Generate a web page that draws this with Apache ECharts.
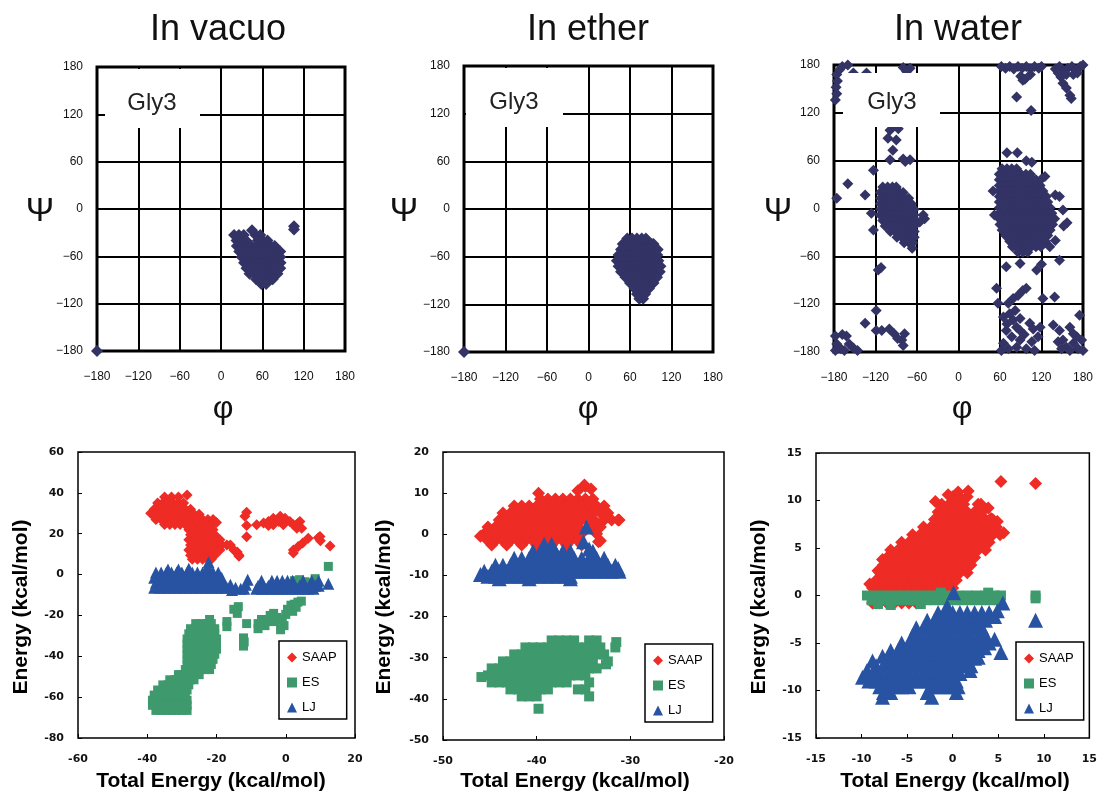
<!DOCTYPE html>
<html><head><meta charset="utf-8">
<script src="https://cdn.jsdelivr.net/npm/echarts/dist/echarts.min.js"></script>
<style>html,body{margin:0;padding:0;background:#fff}#c{width:1100px;height:793px}</style>
</head><body><div id="c"></div>
<script>
// ---------------- DATA ----------------
const panelTitles = ['In vacuo', 'In ether', 'In water'];
const energyNames = ['SAAP', 'ES', 'LJ'];
const angleAxis = [-180, 180, 60];           // min, max, interval
const vacuoEX = [-60, 20, 20], vacuoEY = [-80, 60, 20];
const etherEX = [-50, -20, 10], etherEY = [-50, 20, 10];
const waterEX = [-15, 15, 5],  waterEY = [-15, 15, 5];

// Ramachandran (phi, psi) — rows: [psi, phi1, phi2, ...]
const vacuoRamaRows = [
 [-33, 19,26,33,50,57],
 [-40, 22.5,29.5,36.5,53.5,60.5,67.5],
 [-47, 23,30,37,44,51,58,65,72,78],
 [-54, 26.5,33.5,40.5,47.5,54.5,61.5,68.5,75.5,82.5,86],
 [-61, 30,37,44,51,58,65,72,79,86],
 [-68, 33.5,40.5,47.5,54.5,61.5,68.5,75.5,82.5,86.5],
 [-75, 37,44,51,58,65,72,79,86],
 [-82, 41.5,48.5,55.5,62.5,69.5,76.5,82],
 [-89, 51,58,65,72,75],
 [-95, 58.5,65.5]
];
const vacuoRamaExtra = [[45,-27],[106,-22],[106,-26],[-180,-180]];

const etherRamaRows = [
 [-37, 56,63,70,77,83],
 [-44, 49.5,56.5,63.5,70.5,77.5,84.5,91.5,94],
 [-51, 47,54,61,68,75,82,89,96,100],
 [-58, 43.5,50.5,57.5,64.5,71.5,78.5,85.5,92.5,99.5],
 [-65, 41,48,55,62,69,76,83,90,97,101],
 [-72, 43.5,50.5,57.5,64.5,71.5,78.5,85.5,92.5,99.5,104],
 [-79, 47,54,61,68,75,82,89,96,103],
 [-86, 53.5,60.5,67.5,74.5,81.5,88.5,95.5,99],
 [-93, 60,67,74,81,88,94],
 [-100, 66.5,73.5,80.5,87.5],
 [-107, 70,77,82],
 [-113, 73.5,79]
];
const etherRamaExtra = [[-180,-180]];

const waterRamaLeftRows = [
 [27, -109.5,-102.5,-95.5,-90],
 [20, -113,-106,-99,-92,-85,-80],
 [13, -112.5,-105.5,-98.5,-91.5,-84.5,-77.5,-72],
 [6, -113,-106,-99,-92,-85,-78,-71,-68],
 [-1, -112.5,-105.5,-98.5,-91.5,-84.5,-77.5,-70.5,-64],
 [-8, -113,-106,-99,-92,-85,-78,-71,-64],
 [-15, -109.5,-102.5,-95.5,-88.5,-81.5,-74.5,-67.5,-62],
 [-22, -106,-99,-92,-85,-78,-71,-64],
 [-29, -98.5,-91.5,-84.5,-77.5,-70.5,-64],
 [-36, -89,-82,-75,-68,-64],
 [-43, -78.5,-71.5,-66],
 [-50, -67]
];
const waterRamaRightRows = [
 [50, 63,70,77,84],
 [43, 59,62.5,69.5,76.5,83.5,90.5,97.5,104],
 [36, 59,66,73,80,87,94,101,108,112],
 [29, 59,62.5,69.5,76.5,83.5,90.5,97.5,104.5,111.5,118],
 [22, 59,66,73,80,87,94,101,108,115,122],
 [15, 59,62.5,69.5,76.5,83.5,90.5,97.5,104.5,111.5,118.5,125.5,127],
 [8, 59,66,73,80,87,94,101,108,115,122,129],
 [1, 59,62.5,69.5,76.5,83.5,90.5,97.5,104.5,111.5,118.5,125.5,132.5],
 [-6, 59,66,73,80,87,94,101,108,115,122,129,135],
 [-13, 59,62.5,69.5,76.5,83.5,90.5,97.5,104.5,111.5,118.5,125.5,132.5,139],
 [-20, 60,66,73,80,87,94,101,108,115,122,129,136],
 [-27, 63,69.5,76.5,83.5,90.5,97.5,104.5,111.5,118.5,125.5,132.5],
 [-34, 68,73,80,87,94,101,108,115,122,129],
 [-41, 74,76.5,83.5,90.5,97.5,104.5,111.5,118.5,125.5],
 [-48, 78,84,91,98,105,112,119],
 [-55, 86,93,100]
];
const waterRamaScatter = [
 [-49,-13],[-56,-17],[-51,-8],[-123,48],[-160,31],[-135,17],[-176,13],[-126,-6],[-123,-27],[-116,-77],[-112,-74],
 [-70,61],[-77,59],[-80,62],[-99,61],[-95,73],[-102,88],[-90,86],[-99,98],[-87,100],[-94,104],
 [70,70],[85,70],[98,60],[106,58],[120,37],[125,40],[140,17],[146,15],[151,-2],[157,-18],[152,-22],
 [146,-65],[69,-73],[89,-69],[113,-77],[120,-70],[52,-8],[50,22],[132,-48],[140,-40],
 [62,178],[68,176],[74,178],[80,175],[86,178],[92,176],[98,178],[104,175],[110,178],[116,176],[120,178],
 [90,166],[96,162],[104,168],[84,140],[105,123],[93,161],[140,175],[146,178],[152,172],[158,176],[164,178],
 [170,174],[176,178],[148,165],[156,168],[166,168],[151,157],[156,151],[161,142],[163,138],[172,170],[180,180],[144,170],
 [55,-100],[57,-119],[72,-119],[79,-113],[86,-109],[93,-103],[98,-100],[122,-113],[139,-111],
 [65,-136],[74,-132],[79,-140],[84,-149],[69,-153],[77,-161],[89,-165],[98,-176],[72,-176],[65,-169],[89,-153],
 [103,-144],[108,-151],[118,-149],[115,-161],[106,-167],[84,-174],[89,-138],[82,-128],[70,-145],[95,-158],[110,-178],[62,-178],
 [137,-146],[146,-153],[161,-149],[175,-134],
 [144,-167],[151,-165],[156,-174],[166,-169],[173,-176],[178,-165],[171,-161],[149,-176],[161,-178],[180,-178],[166,-157],
 [-178,136],[-176,144],[-177,152],[-175,160],[-176,168],[-172,174],[-168,178],[-160,180],[-80,177],[-70,176],[-75,172],[-152,170],[-133,170],
 [-178,-178],[-176,-170],[-170,-176],[-178,-160],[-168,-158],[-162,-160],[-158,-170],[-152,-175],[-165,-178],[-146,-178],
 [-135,-144],[-119,-128],[-119,-153],[-111,-153],[-100,-151],[-93,-157],[-82,-165],[-80,-172],[-78,-157],[-88,-163]
];

// Energy components vs total energy — rows: [energy, total1, total2, ...]
const vacuoSaapRows = [
 [38, -35,-33,-31],
 [35, -37,-35.5,-34,-32.5,-31,-29.5],
 [32, -38,-36.5,-35,-33.5,-32,-30.5,-29,-27.5],
 [29.5, -38.5,-37,-35.5,-34,-32.5,-31,-29.5,-28,-26.5,-25],
 [27, -37.5,-36,-34.5,-33,-31.5,-30,-28.5,-27,-25.5,-24,-22.5,-21],
 [24.5, -35,-33.5,-32,-30.5,-29,-27.5,-26,-24.5,-23,-21.5],
 [22, -28,-26.5,-25,-23.5,-22,-21],
 [19.5, -27.5,-26,-24.5,-23,-21.5,-20.5],
 [17, -28,-26.5,-25,-23.5,-22,-20.5,-19],
 [14.5, -27.5,-26,-24.5,-23,-21.5,-20,-18.5,-17,-16],
 [12, -28,-26.5,-25,-23.5,-22,-20.5,-19,-15],
 [9.5, -27.5,-26,-24.5,-23,-21.5,-20.5,-13.5],
 [7.5, -27,-25.5,-24,-22.5,-21.5]
];
const vacuoSaapExtra = [[-28.5,39],[-39,30],[-20,25.5],[-14,11],[-13.5,9],[-11.3,30.5],[-11.8,28.5],[-11.3,24],[-11.3,18.5],
 [-8.4,24.4],[-6.4,25.2],[-5,26],[-3.6,27.6],[-1.6,28.5],[-0.2,27.6],[1.2,26],[2.2,24.4],[-0.7,24.4],[-3.6,24.4],
 [3.6,25.2],[4.1,26],[4.6,22.7],[3.2,22.7],[-2,26],[-5,24],
 [2.2,12],[2.2,10.5],[3.6,13.7],[4.9,15.4],[6.5,17.8],[9.4,18],[10,16.5],[12.8,14],[9.9,18.6]];
const vacuoEsRows = [
 [-24, -26,-24.5,-23,-21.5],
 [-26.5, -27.5,-26,-24.5,-23,-21.5,-20.5],
 [-29, -28,-26.5,-25,-23.5,-22,-20.5],
 [-31.5, -28.5,-27,-25.5,-24,-22.5,-21,-20],
 [-34, -28.5,-27,-25.5,-24,-22.5,-21,-20],
 [-36.5, -28.5,-27,-25.5,-24,-22.5,-21,-20],
 [-39, -28.5,-27,-25.5,-24,-22.5,-21,-20.5],
 [-41.5, -28.5,-27,-25.5,-24,-22.5,-21],
 [-44, -28.5,-27,-25.5,-24,-22.5,-21.5],
 [-46.5, -29,-27.5,-26,-24.5,-23,-22],
 [-49, -31,-29.5,-28,-26.5,-25],
 [-51.5, -33.5,-32,-30.5,-29,-27.5,-26.5],
 [-54, -35.5,-34,-32.5,-31,-29.5,-28],
 [-56.5, -37,-35.5,-34,-32.5,-31,-29.5,-28.5],
 [-59, -38,-36.5,-35,-33.5,-32,-30.5,-29],
 [-61.5, -38.5,-37,-35.5,-34,-32.5,-31,-29.5,-28.5],
 [-64, -38.5,-37,-35.5,-34,-32.5,-31,-29.5,-28.5],
 [-66.5, -37.5,-36,-34.5,-33,-31.5,-30,-28.5]
];
const vacuoEsExtra = [[-17,-23],[-17,-25.5],[-15,-17],[-13.7,-15.7],[-14,-19],[-11.3,-24],[-12.2,-31],[-12.2,-35],[-12,-33],
 [-8,-24],[-7,-22],[-6,-25],[-4.5,-20],[-3.5,-19],[-2.5,-21],[-1,-22],[-0.5,-25],[-1.5,-27],[-5,-23],[-3,-23],[-8,-26.5],
 [0.5,-17],[1.5,-15],[2.5,-14.5],[3.5,-13.5],[4.5,-13],[2,-18],[0,-19.5],[3,-16],
 [12.3,4],[8.5,-2],[2.5,-3],[4,-2.5],[5.5,-3.5],[7,-4],[3.5,-5.5],[-30.5,-49],[-22,-22]];
const vacuoLjRows = [
 [1, -37.5,-36,-34.5,-33,-31.5,-30,-28.5,-27,-25.5,-24,-22.5,-21,-19.5],
 [-1.5, -38,-36.5,-35,-33.5,-32,-30.5,-29,-27.5,-26,-24.5,-23,-21.5,-20,-18.5],
 [-4, -37.5,-36,-34.5,-33,-31.5,-30,-28.5,-27,-25.5,-24,-22.5,-21,-19.5,-18],
 [-6.5, -38,-36.5,-35,-33.5,-32,-30.5,-29,-27.5,-26,-24.5,-23,-21.5,-20,-18.5],
 [-3, -7,-4,-2.5,-1,0.5,2,5,7.5,9.5],
 [-5.5, -8,-6.5,-5,-3.5,-2,-0.5,1,2.5,4,5.5,7,8.5,9.5],
 [-7, -8.5,-7,-5.5,-4,-2.5,-1,0.5,2,3.5,5,6.5,8]
];
const vacuoLjExtra = [[-34,2.5],[-28,2.8],[-22.5,4],[-22.3,6],[-31,2.5],[-16,-5],[-14.5,-6.5],[-13,-7],[-11.5,-5],
 [-11,-2.5],[-12,-7],[-15.5,-7.5],[12.3,-4.5],[-17,-6.5]];

const etherSaapRows = [
 [8.6, -39.6,-38.8,-38,-37.2,-36.4,-35.6,-34.8,-34],
 [6.9, -42.4,-41.6,-40.8,-40,-39.2,-38.4,-37.6,-36.8,-36,-35.2,-34.4,-33.6,-32.8],
 [5.2, -43.6,-42.8,-42,-41.2,-40.4,-39.6,-38.8,-38,-37.2,-36.4,-35.6,-34.8,-34,-33.2,-32.4],
 [3.5, -44,-43.2,-42.4,-41.6,-40.8,-40,-39.2,-38.4,-37.6,-36.8,-36,-35.2,-34.4,-32.8,-32,-31.2],
 [1.8, -45.2,-44.4,-43.6,-42.8,-42,-41.2,-40.4,-39.6,-38.8,-38,-37.2,-36.4,-35.6,-34,-33.2],
 [0.1, -45.6,-44.8,-44,-43.2,-42.4,-41.6,-40.8,-40,-39.2,-38.4,-37.6,-36.8,-36,-35.2,-33.6],
 [-1.6, -45.2,-44.4,-43.6,-42.8,-42,-41.2,-40.4,-39.6,-38.8,-38,-37.2,-36.4,-35.6,-33.2],
 [-2.6, -44.8,-43.2,-41.6,-40,-38.4,-36.8,-35.2]
];
const etherSaapExtra = [[-39.8,10],[-35.6,10.6],[-34.8,11.6],[-34.2,11],[-34.9,12],[-46,-0.5],[-31.3,3.5],[-33.4,-1.8],[-33.8,3.3]];
const etherEsRows = [
 [-25.8, -38.4,-37.6,-36.8,-36,-34.4,-33.6],
 [-27.5, -41.2,-40.4,-39.6,-38.8,-38,-37.2,-36.4,-35.6,-34.8,-34,-33.2,-31.6],
 [-29.2, -42.4,-41.6,-40.8,-40,-39.2,-38.4,-37.6,-36.8,-36,-35.2,-34.4,-33.6,-32.8],
 [-30.9, -43.6,-42.8,-42,-41.2,-40.4,-39.6,-38.8,-38,-37.2,-36.4,-35.6,-34.8,-34,-32.4],
 [-32.6, -44.8,-44,-43.2,-42.4,-41.6,-40.8,-40,-39.2,-38.4,-37.6,-36.8,-36,-35.2,-34.4,-33.6],
 [-34.3, -45.2,-44.4,-43.6,-42.8,-42,-41.2,-40.4,-39.6,-38.8,-38,-37.2,-36.4,-35.6,-34.8],
 [-36, -44.8,-44,-43.2,-42.4,-41.6,-40.8,-40,-39.2,-38.4,-37.6,-36.8,-34.4],
 [-37.7, -42.8,-42,-41.2,-40.4,-39.6,-38.8,-35.6,-34.8],
 [-39.4, -41.6,-40.8,-40,-34.4]
];
const etherEsExtra = [[-39.8,-42.4],[-45.9,-34.7],[-31.5,-26.2],[-32.6,-31.6]];
const etherLjRows = [
 [-2.4, -39.2,-38.4],
 [-4.1, -40.4,-39.6,-38.8,-38,-37.2,-36.4,-34],
 [-5.8, -42.4,-41.6,-40.8,-40,-39.2,-38.4,-37.6,-36.8,-36,-35.2,-34.4,-33.6,-32.8],
 [-7.5, -44.4,-43.6,-42.8,-42,-41.2,-40.4,-39.6,-38.8,-38,-37.2,-36.4,-35.6,-34.8,-34,-33.2,-32.4,-31.6],
 [-9.0, -45.6,-44.8,-44,-43.2,-42.4,-41.6,-40.8,-40,-39.2,-38.4,-37.6,-36.8,-36,-35.2,-34.4,-33.6,-32.8,-32,-31.2],
 [-10.2, -45.2,-44.4,-43.6,-42.8,-42,-41.2,-40.4,-39.6,-38.8,-38,-37.2,-36.4]
];
const etherLjExtra = [[-34.7,1.8],[-35,-1.8],[-34.4,-3.6],[-31.3,-8.3],[-46,-9.8],[-36.4,-10.8],[-40.8,-10.8],[-44,-10.8]];

const waterSaapRows = [
 [-0.8, -8.8,-8,-7.2,-6.4,-5.6,-4.8,-4],
 [0, -8.4,-7.6,-6.8,-6,-5.2,-4.4,-3.6,-2.8,-2,-1.2],
 [0.8, -8.8,-8,-7.2,-6.4,-5.6,-4.8,-4,-3.2,-2.4,-1.6,-0.8,0],
 [1.6, -8.4,-7.6,-6.8,-6,-5.2,-4.4,-3.6,-2.8,-2,-1.2,-0.4,0.4],
 [2.4, -8,-7.2,-6.4,-5.6,-4.8,-4,-3.2,-2.4,-1.6,-0.8,0,0.8,1.6],
 [3.2, -7.6,-6.8,-6,-5.2,-4.4,-3.6,-2.8,-2,-1.2,-0.4,0.4,1.2,2],
 [4, -7.2,-6.4,-5.6,-4.8,-4,-3.2,-2.4,-1.6,-0.8,0,0.8,1.6,2.4],
 [4.8, -6.8,-6,-5.2,-4.4,-3.6,-2.8,-2,-1.2,-0.4,0.4,1.2,2,2.8,3.6],
 [5.6, -5.6,-4.8,-4,-3.2,-2.4,-1.6,-0.8,0,0.8,1.6,2.4,3.2,4],
 [6.4, -4.4,-3.6,-2.8,-2,-1.2,-0.4,0.4,1.2,2,2.8,3.6,4.4,5.2],
 [7.2, -3.2,-2.4,-1.6,-0.8,0,0.8,1.6,2.4,3.2,4,4.8],
 [8, -2,-1.2,-0.4,0.4,1.2,2,2.8,3.6,4.4],
 [8.8, -1.6,-0.8,0,0.8,1.6,2.4,3.2],
 [9.6, -1.2,-0.4,0.4,1.2,2.8],
 [10.4, 0,0.8,1.6]
];
const waterSaapExtra = [[5.3,12],[9.1,11.8],[-0.5,10.6],[5.6,6.6],[4.9,7.8],[3.9,9.2],[3.1,9.6],[1.7,11],[0.6,10.9],
 [-1.9,9.9],[-7.7,3.8],[-9.1,1.2],[-8.2,2.6],[4.2,8.1],[-1.2,9.4]];
const waterEsRows = [
 [0, -9.4,-8.4,-7.4,-6.4,-5.4,-4.4,-3.4,-2.4,-1.4,-0.4,0.6,1.6,2.6,3.6,4.6,5.3],
 [-0.5, -8.9,-7.9,-6.9,-5.9,-4.9,-3.9,-2.9,-1.9,-0.9,0.1,1.1,2.1,3.1,4.1,5.1]
];
const waterEsExtra = [[-6.8,-1.0],[-3.5,-0.9],[-8.2,-0.9],[-1.3,0.3],[9.1,0],[9.1,-0.3],[3.9,0.3]];
const waterLjRows = [
 [-1.8, -1.6,-0.8,0,0.8,1.6,2.4,3.2,4],
 [-2.6, -2.8,-2,-1.2,-0.4,0.4,1.2,2,2.8,3.6],
 [-3.4, -4,-3.2,-2.4,-1.6,-0.8,0,0.8,1.6,2.4,3.2],
 [-4.2, -4.4,-3.6,-2.8,-2,-1.2,-0.4,0.4,1.2,2,2.8,3.6],
 [-5, -5.6,-4.8,-4,-3.2,-2.4,-1.6,-0.8,0,0.8,1.6,2.4,3.2,4],
 [-5.8, -6.8,-6,-5.2,-4.4,-3.6,-2.8,-2,-1.2,-0.4,0.4,1.2,2,2.8],
 [-6.6, -7.2,-6.4,-5.6,-4.8,-4,-3.2,-2.4,-1.6,-0.8,0,0.8,1.6,2.4],
 [-7.4, -8.4,-7.6,-6.8,-6,-5.2,-4.4,-3.6,-2.8,-2,-1.2,-0.4,0.4,1.2,2],
 [-8.2, -8.8,-8,-7.2,-6.4,-5.6,-4.8,-4,-3.2,-2.4,-1.6,-0.8,0,0.8],
 [-9.0, -9.2,-8.4,-7.6,-6.8,-6,-5.2,-4.4,-3.6,-2.8,-2,-1.2,-0.4,0.4],
 [-9.6, -8,-7.2,-6.4,-5.6,-4.8,-2.4,-1.6,-0.8,0],
 [-10.2, -7.6,-6.8,-2.8,0.4]
];
const waterLjExtra = [[0.1,0.3],[-0.6,-1.1],[5.5,-0.8],[4.9,-1.6],[4.6,-2.2],[9.1,-2.6],[5.3,-6],[4.6,-4.6],[-9.9,-8.6],
 [-9.4,-7.9],[-8.8,-6.9],[-7.7,-6.4],[-7.7,-10.7],[-2.3,-10.7],[0.6,-9.6],[1.9,-7.9],[2.8,-6.5],[3.5,-5.5]];

// ---------------- BUILD ----------------
function expand(rows, extra) {
  const out = [];
  rows.forEach(r => { for (let i = 1; i < r.length; i++) out.push([r[i], r[0]]); });
  (extra || []).forEach(p => out.push(p));
  return out;
}
const NAVY = '#333366', RED = '#ee2b25', GREEN = '#3e9a6c', BLUE = '#2853a3';
const SANS = 'Liberation Sans';

const grids = [
  {left: 97, top: 67, width: 248, height: 284},
  {left: 464, top: 66, width: 249, height: 286},
  {left: 834, top: 65, width: 249, height: 287},
  {left: 78, top: 452, width: 277, height: 286},
  {left: 443, top: 452, width: 281, height: 288},
  {left: 816, top: 453, width: 277, height: 285}
].map((g, i) => Object.assign(g, {show: true, borderColor: '#000', borderWidth: i < 3 ? 3 : 1.5, backgroundColor: 'transparent'}));

const fmtMinus = v => (v < 0 ? '\u2212' + Math.abs(v) : String(v));
function angleAx(i, isX) {
  return {
    type: 'value', gridIndex: i, min: angleAxis[0], max: angleAxis[1], interval: angleAxis[2],
    axisLine: {show: false, onZero: false}, axisTick: {show: false},
    splitLine: {show: true, lineStyle: {color: '#000', width: 2}},
    axisLabel: {formatter: fmtMinus, fontFamily: SANS, fontSize: 12, color: '#111', margin: isX ? 20 : 14}
  };
}
function energyAx(i, r, isX) {
  return {
    type: 'value', gridIndex: i, min: r[0], max: r[1], interval: r[2],
    axisLine: {show: false, onZero: false},
    axisTick: {show: true, inside: true, length: 4, lineStyle: {color: '#000', width: 1}},
    splitLine: {show: false},
    axisLabel: {fontFamily: 'DejaVu Sans', fontWeight: 'bold', fontSize: 11, color: '#111', margin: isX ? 16 : 14}
  };
}
const xAxes = [angleAx(0,1), angleAx(1,1), angleAx(2,1), energyAx(3, vacuoEX,1), energyAx(4, etherEX,1), energyAx(5, waterEX,1)];
const yAxes = [angleAx(0,0), angleAx(1,0), angleAx(2,0), energyAx(3, vacuoEY,0), energyAx(4, etherEY,0), energyAx(5, waterEY,0)];

function sc(name, idx, data, symbol, size, color) {
  return {type: 'scatter', name, xAxisIndex: idx, yAxisIndex: idx, data, symbol, symbolSize: size,
    itemStyle: {color, opacity: 1}, clip: false, animation: false, emphasis: {disabled: true}, z: 3};
}
const series = [
  sc('Gly3 in vacuo', 0, expand(vacuoRamaRows, vacuoRamaExtra), 'diamond', 12, NAVY),
  sc('Gly3 in ether', 1, expand(etherRamaRows, etherRamaExtra), 'diamond', 12, NAVY),
  sc('Gly3 in water', 2, expand(waterRamaLeftRows, []).concat(expand(waterRamaRightRows, waterRamaScatter)), 'diamond', 11, NAVY),
  sc('SAAP', 3, expand(vacuoSaapRows, vacuoSaapExtra), 'diamond', 11, RED),
  sc('ES', 3, expand(vacuoEsRows, vacuoEsExtra), 'rect', 9, GREEN),
  sc('LJ', 3, expand(vacuoLjRows, vacuoLjExtra), 'triangle', 12, BLUE),
  sc('SAAP', 4, expand(etherSaapRows, etherSaapExtra), 'diamond', 13, RED),
  sc('ES', 4, expand(etherEsRows, etherEsExtra), 'rect', 10, GREEN),
  sc('LJ', 4, expand(etherLjRows, etherLjExtra), 'triangle', 15, BLUE),
  sc('SAAP', 5, expand(waterSaapRows, waterSaapExtra), 'diamond', 13, RED),
  sc('ES', 5, expand(waterEsRows, waterEsExtra), 'rect', 10, GREEN),
  sc('LJ', 5, expand(waterLjRows, waterLjExtra), 'triangle', 15, BLUE)
];

const legendIcons = {SAAP: 'diamond', ES: 'rect', LJ: 'triangle'};
function leg(left, top) {
  return {
    left, top, orient: 'vertical', selectedMode: false,
    data: energyNames.map(n => ({name: n, icon: legendIcons[n]})),
    borderColor: '#000', borderWidth: 1.5, backgroundColor: '#fff',
    padding: [9, 10, 4, 8], itemGap: 10, itemWidth: 10, itemHeight: 10, itemTextGap: 3,
    textStyle: {fontFamily: SANS, fontSize: 13, color: '#000', lineHeight: 15}
  };
}

function txt(x, y, text, size, opts) {
  return Object.assign({type: 'text', x, y, z: 101,
    style: Object.assign({text, fontFamily: SANS, fontSize: size, fill: '#111', align: 'center', verticalAlign: 'middle'}, (opts && opts.style) || {})},
    (opts && opts.el) || {});
}
const graphic = [
  txt(218, 30, panelTitles[0], 36), txt(588, 30, panelTitles[1], 36), txt(958, 30, panelTitles[2], 36),
  {type: 'rect', z: 100, shape: {x: 105, y: 69, width: 95, height: 59}, style: {fill: '#fff'}},
  {type: 'rect', z: 100, shape: {x: 466, y: 68, width: 97, height: 59}, style: {fill: '#fff'}},
  {type: 'rect', z: 100, shape: {x: 843, y: 73, width: 97, height: 54}, style: {fill: '#fff'}},
  txt(152, 103, 'Gly3', 24, {style: {fill: '#222'}}), txt(514, 102, 'Gly3', 24, {style: {fill: '#222'}}), txt(892, 102, 'Gly3', 24, {style: {fill: '#222'}}),
  txt(40, 212, '\u03A8', 34), txt(404, 212, '\u03A8', 34), txt(778, 212, '\u03A8', 34),
  txt(223, 409, '\u03C6', 32), txt(588, 409, '\u03C6', 32), txt(962, 409, '\u03C6', 32),
  txt(21, 607, 'Energy (kcal/mol)', 21, {style: {fontWeight: 'bold', fill: '#000'}, el: {rotation: Math.PI / 2}}),
  txt(384, 607, 'Energy (kcal/mol)', 21, {style: {fontWeight: 'bold', fill: '#000'}, el: {rotation: Math.PI / 2}}),
  txt(759, 607, 'Energy (kcal/mol)', 21, {style: {fontWeight: 'bold', fill: '#000'}, el: {rotation: Math.PI / 2}}),
  txt(211, 781, 'Total Energy (kcal/mol)', 21, {style: {fontWeight: 'bold', fill: '#000'}}),
  txt(575, 781, 'Total Energy (kcal/mol)', 21, {style: {fontWeight: 'bold', fill: '#000'}}),
  txt(955, 781, 'Total Energy (kcal/mol)', 21, {style: {fontWeight: 'bold', fill: '#000'}})
];

const chart = echarts.init(document.getElementById('c'), null, {renderer: 'canvas'});
chart.setOption({
  animation: false,
  backgroundColor: '#fff',
  grid: grids,
  xAxis: xAxes,
  yAxis: yAxes,
  legend: [leg(279, 641), leg(645, 644), leg(1016, 642)],
  series,
  graphic
});
</script>
</body></html>
